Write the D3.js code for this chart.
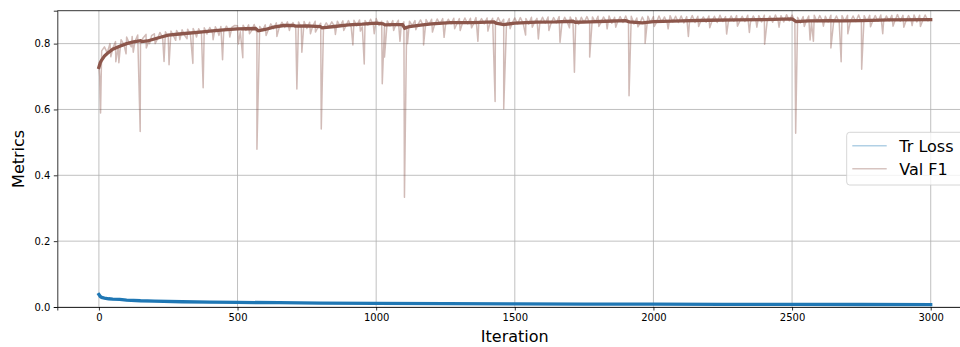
<!DOCTYPE html>
<html lang="en">
<head>
<meta charset="utf-8">
<script src="https://d3js.org/d3.v7.min.js"></script>
<style type="text/css">
body {
  margin: 0;
  background-color: #ffffff;
  font-family: "DejaVu Sans", sans-serif;
}
.axis text {
  font: 10px "DejaVu Sans", sans-serif;
  fill: #000;
}
.axis line, .axis path {
  stroke: #000;
  stroke-width: 0.8;
}
.grid line {
  stroke: #b0b0b0;
  stroke-width: 0.8;
}
</style>
</head>
<body>
<script type="text/javascript">

// raw validation F1, one value every 10 iterations (0..3000)
var f1Step = 10;
var f1Raw = [
  0.735, 0.778, 0.790, 0.772, 0.800, 0.785, 0.806, 0.792, 0.812, 0.798,
  0.820, 0.800, 0.822, 0.806, 0.826, 0.803, 0.818, 0.828, 0.808, 0.824,
  0.830, 0.812, 0.834, 0.818, 0.836, 0.821, 0.838, 0.822, 0.840, 0.826,
  0.842, 0.824, 0.844, 0.828, 0.846, 0.826, 0.845, 0.830, 0.848, 0.829,
  0.849, 0.832, 0.851, 0.834, 0.852, 0.836, 0.853, 0.838, 0.850, 0.855,
  0.854, 0.836, 0.856, 0.840, 0.857, 0.838, 0.858, 0.832, 0.852, 0.840,
  0.857, 0.840, 0.860, 0.845, 0.863, 0.848, 0.865, 0.849, 0.866, 0.850,
  0.864, 0.846, 0.866, 0.848, 0.867, 0.846, 0.865, 0.850, 0.868, 0.849,
  0.862, 0.848, 0.863, 0.851, 0.866, 0.852, 0.868, 0.853, 0.869, 0.852,
  0.870, 0.850, 0.871, 0.854, 0.872, 0.851, 0.870, 0.856, 0.874, 0.855,
  0.876, 0.855, 0.868, 0.852, 0.869, 0.854, 0.870, 0.856, 0.871, 0.853,
  0.866, 0.852, 0.868, 0.855, 0.870, 0.857, 0.872, 0.854, 0.873, 0.858,
  0.874, 0.856, 0.875, 0.859, 0.876, 0.857, 0.874, 0.860, 0.877, 0.858,
  0.876, 0.859, 0.878, 0.860, 0.877, 0.858, 0.879, 0.861, 0.876, 0.860,
  0.878, 0.861, 0.877, 0.859, 0.879, 0.862, 0.874, 0.858, 0.876, 0.861,
  0.878, 0.860, 0.879, 0.862, 0.876, 0.859, 0.880, 0.863, 0.877, 0.861,
  0.880, 0.862, 0.881, 0.860, 0.879, 0.863, 0.882, 0.861, 0.880, 0.864,
  0.881, 0.862, 0.879, 0.858, 0.880, 0.864, 0.882, 0.863, 0.881, 0.865,
  0.883, 0.863, 0.881, 0.866, 0.884, 0.862, 0.880, 0.865, 0.882, 0.864,
  0.884, 0.862, 0.883, 0.860, 0.878, 0.859, 0.881, 0.862, 0.883, 0.864,
  0.882, 0.863, 0.884, 0.865, 0.881, 0.862, 0.885, 0.866, 0.883, 0.864,
  0.884, 0.863, 0.882, 0.866, 0.885, 0.864, 0.883, 0.867, 0.881, 0.865,
  0.884, 0.866, 0.883, 0.864, 0.886, 0.867, 0.882, 0.865, 0.884, 0.868,
  0.885, 0.866, 0.883, 0.867, 0.886, 0.865, 0.884, 0.868, 0.885, 0.866,
  0.886, 0.867, 0.884, 0.865, 0.887, 0.868, 0.885, 0.866, 0.888, 0.869,
  0.887, 0.868, 0.880, 0.863, 0.882, 0.866, 0.884, 0.865, 0.886, 0.867,
  0.885, 0.868, 0.883, 0.866, 0.886, 0.867, 0.884, 0.865, 0.885, 0.868,
  0.886, 0.866, 0.884, 0.867, 0.887, 0.865, 0.885, 0.868, 0.886, 0.867,
  0.885, 0.868, 0.887, 0.866, 0.884, 0.869, 0.886, 0.867, 0.888, 0.868,
  0.886, 0.867, 0.885, 0.869, 0.887, 0.866, 0.886, 0.868, 0.887, 0.869,
  0.874
];

// single-iteration drops in the raw F1
var f1SpikeIter = [3, 6, 43, 61, 72, 98, 117, 124, 149, 171, 183, 203, 235, 253, 277, 292, 318, 339, 352, 376,
  412, 433, 446, 472, 503, 519, 543, 570, 603, 642, 687, 714, 732, 763, 781, 802, 853, 883, 916, 943, 957,
  993, 1022, 1030, 1063, 1086, 1102, 1113, 1143, 1171, 1203, 1245, 1283, 1303, 1344, 1367, 1403, 1429, 1460,
  1483, 1539, 1563, 1585, 1623, 1663, 1697, 1715, 1770, 1803, 1833, 1864, 1912, 1944, 1970, 2003, 2053,
  2126, 2163, 2203, 2264, 2303, 2346, 2373, 2401, 2453, 2513, 2544, 2565, 2577, 2613, 2640, 2677, 2701,
  2751, 2783, 2827, 2864, 2903, 2933, 2963];
var f1SpikeVal = [0.700, 0.589, 0.760, 0.745, 0.742, 0.769, 0.790, 0.774, 0.533, 0.787, 0.800, 0.800, 0.746, 0.736, 0.810, 0.812, 0.815, 0.740, 0.820, 0.666,
  0.812, 0.825, 0.751, 0.820, 0.799, 0.757, 0.830, 0.479, 0.825, 0.822, 0.840, 0.662, 0.774, 0.830, 0.835, 0.541, 0.828, 0.840, 0.796, 0.838, 0.738,
  0.830, 0.678, 0.759, 0.840, 0.807, 0.333, 0.800, 0.842, 0.796, 0.835, 0.819, 0.845, 0.840, 0.848, 0.807, 0.838, 0.624, 0.602,
  0.845, 0.826, 0.850, 0.814, 0.840, 0.804, 0.848, 0.713, 0.759, 0.852, 0.845, 0.850, 0.642, 0.851, 0.801, 0.852, 0.845,
  0.822, 0.852, 0.848, 0.829, 0.853, 0.834, 0.850, 0.798, 0.850, 0.528, 0.852, 0.811, 0.807, 0.853, 0.787, 0.745, 0.830,
  0.722, 0.851, 0.830, 0.853, 0.850, 0.855, 0.852];

// smoothed F1
var f1SmoothIter = [0, 5, 10, 20, 30, 50, 75, 100, 125, 150, 155, 175, 200, 225, 250, 300, 365, 400, 450, 500, 565, 575,
  600, 630, 666, 700, 710, 750, 798, 805, 850, 900, 950, 1000, 1025, 1032, 1060, 1095, 1103, 1120, 1160, 1200,
  1267, 1350, 1425, 1432, 1460, 1500, 1580, 1650, 1710, 1718, 1770, 1830, 1900, 1913, 1960, 2000, 2100, 2200,
  2300, 2400, 2500, 2515, 2560, 2640, 2680, 2750, 2850, 3000];
var f1Smooth = [0.728, 0.742, 0.750, 0.762, 0.770, 0.783, 0.792, 0.800, 0.805, 0.809, 0.806, 0.808, 0.814, 0.820, 0.826, 0.830, 0.835, 0.838, 0.842, 0.845, 0.846, 0.839,
  0.843, 0.850, 0.855, 0.855, 0.853, 0.854, 0.852, 0.848, 0.852, 0.857, 0.859, 0.862, 0.860, 0.857, 0.858, 0.858, 0.847, 0.852, 0.856, 0.860,
  0.864, 0.864, 0.866, 0.862, 0.858, 0.862, 0.865, 0.866, 0.868, 0.865, 0.866, 0.868, 0.870, 0.866, 0.863, 0.867, 0.869, 0.871,
  0.872, 0.873, 0.875, 0.867, 0.869, 0.870, 0.869, 0.870, 0.872, 0.873];

// training loss, raw and smoothed
var lossIter = [0, 5, 10, 20, 35, 50, 75, 100, 150, 200, 300, 400, 500, 650, 800, 1000, 1250, 1500, 1750, 2000, 2250, 2500, 2750, 3000];
var lossRaw = [0.040, 0.031, 0.030, 0.026, 0.026, 0.023, 0.024, 0.020, 0.020, 0.017, 0.017, 0.014, 0.015, 0.012, 0.013, 0.010, 0.011, 0.009, 0.010, 0.008, 0.009, 0.0075, 0.008, 0.007];
var lossSmooth = [0.038, 0.032, 0.029, 0.027, 0.025, 0.024, 0.023, 0.021, 0.019, 0.018, 0.016, 0.015, 0.014, 0.013, 0.012, 0.011, 0.0102, 0.0096, 0.009, 0.0086, 0.0082, 0.0079, 0.0076, 0.0074];

var xTicks = [0, 500, 1000, 1500, 2000, 2500, 3000];
var yTicks = [0.0, 0.2, 0.4, 0.6, 0.8];
var seriesNames = ["Tr Loss", "Val F1"];

var width = 960;
var height = 347;
var plotLeft = 57.3, plotRight = 972.3, plotTop = 10.7, plotBottom = 307;

var blue = "#1f77b4";
var brown = "#8c564b";

var x = d3.scaleLinear().domain([-150, 3150]).range([plotLeft, plotRight]);
var y = d3.scaleLinear().domain([0, 0.9]).range([plotBottom, plotTop]);

var svg = d3.select("body")
  .append("svg")
  .attr("width", width)
  .attr("height", height);

svg.append("clipPath").attr("id", "plot")
  .append("rect")
  .attr("x", plotLeft).attr("y", plotTop)
  .attr("width", plotRight - plotLeft).attr("height", plotBottom - plotTop);

// grid
var grid = svg.append("g").attr("class", "grid");
grid.selectAll(".gx").data(xTicks).enter().append("line")
  .attr("x1", d => x(d)).attr("x2", d => x(d))
  .attr("y1", plotTop).attr("y2", plotBottom);
grid.selectAll(".gy").data(yTicks).enter().append("line")
  .attr("x1", plotLeft).attr("x2", plotRight)
  .attr("y1", d => y(d)).attr("y2", d => y(d));

// merge base samples with the spikes
var f1Points = f1Raw.map((v, i) => [i * f1Step, v]);
f1SpikeIter.forEach((it, i) => f1Points.push([it, f1SpikeVal[i]]));
f1Points.sort((a, b) => a[0] - b[0]);

var line = d3.line().x(d => x(d[0])).y(d => y(d[1]));

var plot = svg.append("g").attr("clip-path", "url(#plot)");

plot.append("path")
  .attr("d", line(lossIter.map((it, i) => [it, lossRaw[i]])))
  .style("fill", "none").style("stroke", blue)
  .style("stroke-opacity", 0.4).style("stroke-width", 1.5);

plot.append("path")
  .attr("d", line(f1Points))
  .style("fill", "none").style("stroke", brown)
  .style("stroke-opacity", 0.4).style("stroke-width", 1.5)
  .style("stroke-linejoin", "round");

plot.append("path")
  .attr("d", line(lossIter.map((it, i) => [it, lossSmooth[i]])))
  .style("fill", "none").style("stroke", blue)
  .style("stroke-width", 3.3).style("stroke-linecap", "square");

plot.append("path")
  .attr("d", line(f1SmoothIter.map((it, i) => [it, f1Smooth[i]])))
  .style("fill", "none").style("stroke", brown)
  .style("stroke-width", 3.3).style("stroke-linecap", "square");

// axes
svg.append("g").attr("class", "axis")
  .attr("transform", "translate(0," + plotBottom + ")")
  .call(d3.axisBottom(x).tickValues(xTicks).tickFormat(d3.format("d")).tickSizeOuter(0).tickSize(3.5).tickPadding(3.5));

svg.append("g").attr("class", "axis")
  .attr("transform", "translate(" + plotLeft + ",0)")
  .call(d3.axisLeft(y).tickValues(yTicks).tickFormat(d3.format(".1f")).tickSizeOuter(0).tickSize(3.5).tickPadding(3.5));

// top spine
svg.append("line")
  .attr("x1", plotLeft).attr("x2", plotRight)
  .attr("y1", plotTop).attr("y2", plotTop)
  .style("stroke", "#000").style("stroke-width", 0.8);

// axis labels
svg.append("text")
  .attr("x", (plotLeft + plotRight) / 2).attr("y", 342.3)
  .attr("text-anchor", "middle")
  .style("font-size", "16px")
  .text("Iteration");

svg.append("text")
  .attr("transform", "translate(24," + ((plotTop + plotBottom) / 2) + ") rotate(-90)")
  .attr("text-anchor", "middle")
  .style("font-size", "16px")
  .text("Metrics");

// legend
var legend = svg.append("g");
legend.append("rect")
  .attr("x", 846.7).attr("y", 132.3)
  .attr("width", 122).attr("height", 52.7)
  .attr("rx", 3)
  .style("fill", "#fff").style("fill-opacity", 0.8)
  .style("stroke", "#cccccc").style("stroke-width", 0.8);

var legendColors = [blue, brown];
seriesNames.forEach(function(name, i) {
  var ly = 145.7 + i * 23;
  legend.append("line")
    .attr("x1", 852.3).attr("x2", 886.7)
    .attr("y1", ly).attr("y2", ly)
    .style("stroke", legendColors[i]).style("stroke-opacity", 0.35)
    .style("stroke-width", 1.5);
  legend.append("text")
    .attr("x", 899.3).attr("y", ly + 6)
    .style("font-size", "16px")
    .text(name);
});

</script>
</body>
</html>
